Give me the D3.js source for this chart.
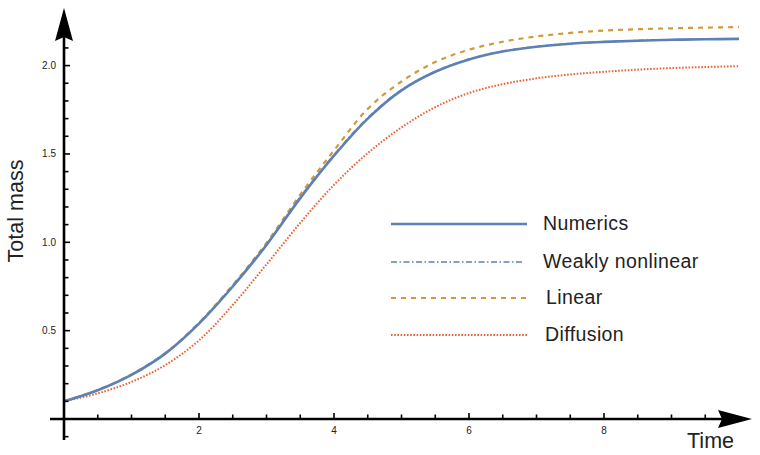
<!DOCTYPE html>
<html>
<head>
<meta charset="utf-8">
<script src="https://cdn.jsdelivr.net/npm/d3@7"></script>
<style>
  body { margin: 0; background: #fff; }
  text { font-family: "Liberation Sans", Arial, sans-serif; }
</style>
</head>
<body>
<svg id="chart" width="760" height="455"></svg>
<script>
var times = d3.range(0, 10.01, 0.5);
var numerics = [0.10, 0.163, 0.25, 0.37, 0.54, 0.75, 0.985, 1.25, 1.49, 1.70, 1.86,
  1.965, 2.035, 2.08, 2.107, 2.124, 2.134, 2.141, 2.146, 2.149, 2.151];
var weakly = [0.10, 0.164, 0.252, 0.373, 0.544, 0.755, 0.99, 1.256, 1.495, 1.705, 1.863,
  1.967, 2.037, 2.082, 2.108, 2.125, 2.135, 2.142, 2.147, 2.15, 2.152];
var linear = [0.10, 0.164, 0.252, 0.373, 0.545, 0.758, 0.997, 1.27, 1.52, 1.755, 1.91,
  2.02, 2.09, 2.135, 2.165, 2.185, 2.198, 2.206, 2.211, 2.215, 2.218];
var diffusion = [0.10, 0.145, 0.21, 0.305, 0.445, 0.645, 0.875, 1.11, 1.325, 1.505, 1.65,
  1.765, 1.845, 1.895, 1.928, 1.95, 1.965, 1.977, 1.986, 1.992, 1.997];

var seriesNames = ["Numerics", "Weakly nonlinear", "Linear", "Diffusion"];
var xMajor = [2, 4, 6, 8];
var yMajor = [0.5, 1.0, 1.5, 2.0];

var svg = d3.select('#chart');

var x = d3.scaleLinear().domain([0, 10]).range([64, 739]);
var y = d3.scaleLinear().domain([0, 2]).range([419, 65.6]);

var styles = [
  { color: "#5E81B5", width: 2.6, dash: null },
  { color: "#5E81B5", width: 1.6, dash: "6,2.5,1.5,2.5" },
  { color: "#D19A38", width: 2.2, dash: "5,5" },
  { color: "#EB6235", width: 2, dash: "1.6,1.6" }
];
var allSeries = [numerics, weakly, linear, diffusion];

var line = d3.line()
    .x(function(d) { return x(d.t); })
    .y(function(d) { return y(d.v); })
    .curve(d3.curveCatmullRom.alpha(0.5));

// curves (draw in back-to-front order)
[3, 2, 0, 1].forEach(function(i) {
  var pts = times.map(function(t, k) { return { t: t, v: allSeries[i][k] }; });
  svg.append("path")
    .datum(pts)
    .attr("fill", "none")
    .attr("stroke", styles[i].color)
    .attr("stroke-width", styles[i].width)
    .attr("stroke-dasharray", styles[i].dash)
    .attr("d", line);
});

/*
Axes
*/
var ax = svg.append("g").attr("stroke", "#000");

ax.append("line")
  .attr("x1", 50).attr("x2", 722)
  .attr("y1", y(0)).attr("y2", y(0))
  .attr("stroke-width", 2.6);

ax.append("line")
  .attr("x1", x(0)).attr("x2", x(0))
  .attr("y1", 440).attr("y2", 36)
  .attr("stroke-width", 2.6);

// arrow heads
svg.append("path")
  .attr("d", "M" + x(0) + ",8 L" + (x(0) - 9) + ",41 L" + x(0) + ",37 L" + (x(0) + 9) + ",41 Z")
  .attr("fill", "#000");
svg.append("path")
  .attr("d", "M752," + y(0) + " L718," + (y(0) - 9) + " L722," + y(0) + " L718," + (y(0) + 9) + " Z")
  .attr("fill", "#000");

// x ticks
var xMinor = d3.range(0.5, 9.51, 0.5);
svg.append("g").selectAll("line")
  .data(xMinor)
  .join("line")
  .attr("x1", function(d) { return x(d); })
  .attr("x2", function(d) { return x(d); })
  .attr("y1", y(0))
  .attr("y2", function(d) { return y(0) - (xMajor.indexOf(d) >= 0 ? 6 : 4.5); })
  .attr("stroke", "#000")
  .attr("stroke-width", 1.6);

svg.append("g").selectAll("text")
  .data(xMajor)
  .join("text")
  .attr("x", function(d) { return x(d); })
  .attr("y", y(0) + 15)
  .attr("text-anchor", "middle")
  .attr("font-size", 10)
  .attr("fill", "#222")
  .text(function(d) { return d; });

// y ticks
var yMinor = d3.range(-1, 22).map(function(k) { return k / 10; }).filter(function(d) { return d !== 0; });
svg.append("g").selectAll("line")
  .data(yMinor)
  .join("line")
  .attr("x1", x(0))
  .attr("x2", function(d) {
    var isMajor = yMajor.some(function(m) { return Math.abs(m - d) < 1e-6; });
    return x(0) + (isMajor ? 6 : 4.5);
  })
  .attr("y1", function(d) { return y(d); })
  .attr("y2", function(d) { return y(d); })
  .attr("stroke", "#000")
  .attr("stroke-width", 1.6);

svg.append("g").selectAll("text")
  .data(yMajor)
  .join("text")
  .attr("x", x(0) - 8)
  .attr("y", function(d) { return y(d) + 3.5; })
  .attr("text-anchor", "end")
  .attr("font-size", 10)
  .attr("fill", "#222")
  .text(function(d) { return d.toFixed(1); });

// axis labels
svg.append("text")
  .attr("x", 734)
  .attr("y", 448)
  .attr("text-anchor", "end")
  .attr("font-size", 21.5)
  .attr("fill", "#222")
  .text("Time");

svg.append("text")
  .attr("transform", "translate(23,211) rotate(-90)")
  .attr("text-anchor", "middle")
  .attr("font-size", 21.5)
  .attr("fill", "#222")
  .text("Total mass");

/*
Legend
*/
var legendY = [224, 262, 298, 335];
var legendTextX = [543, 543, 546, 545];
var legend = svg.append("g");
seriesNames.forEach(function(name, i) {
  legend.append("line")
    .attr("x1", 391).attr("x2", i === 1 ? 523 : 527)
    .attr("y1", legendY[i]).attr("y2", legendY[i])
    .attr("stroke", styles[i].color)
    .attr("stroke-width", styles[i].width)
    .attr("stroke-dasharray", styles[i].dash);
  legend.append("text")
    .attr("x", legendTextX[i])
    .attr("y", legendY[i] + 6)
    .attr("font-size", 19.5)
    .attr("letter-spacing", 0.4)
    .attr("fill", "#222")
    .text(name);
});
</script>
</body>
</html>
